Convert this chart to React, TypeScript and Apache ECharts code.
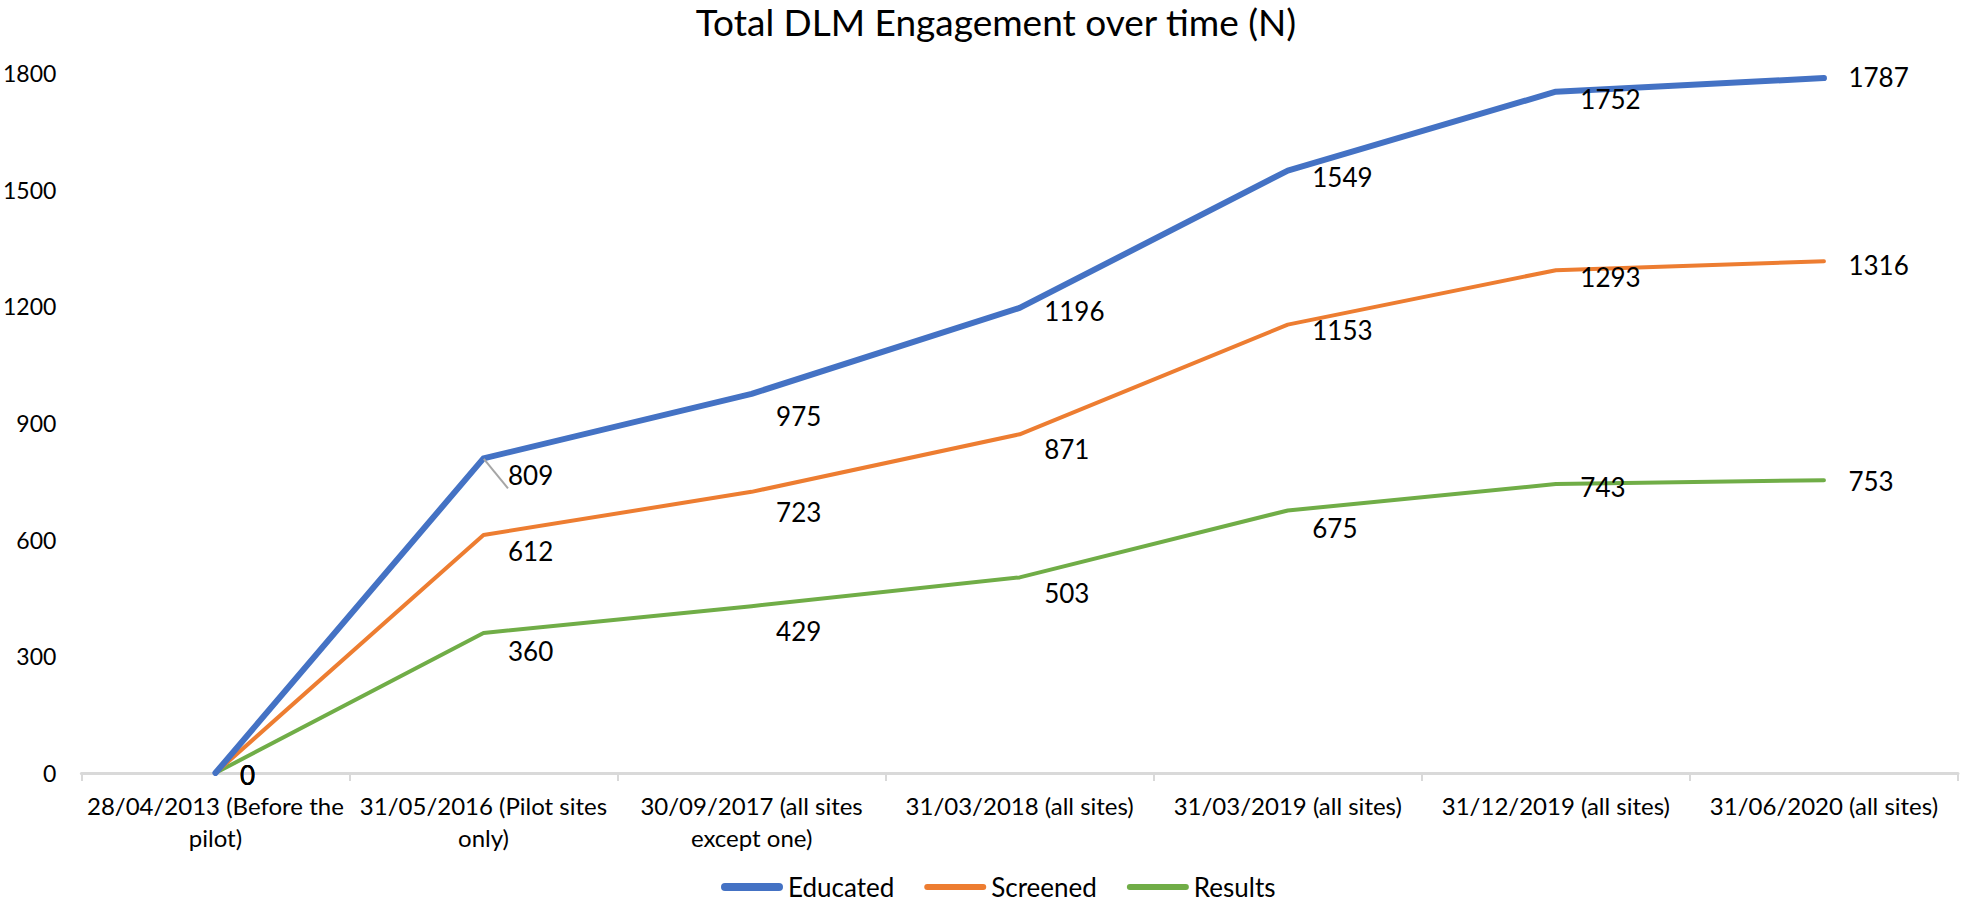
import React, { useEffect, useRef } from "react";
import * as echarts from "echarts";

const categories = [
  "28/04/2013 (Before the\npilot)",
  "31/05/2016 (Pilot sites\nonly)",
  "30/09/2017 (all sites\nexcept one)",
  "31/03/2018 (all sites)",
  "31/03/2019 (all sites)",
  "31/12/2019 (all sites)",
  "31/06/2020 (all sites)",
];

const educated = [0, 809, 975, 1196, 1549, 1752, 1787];
const screened = [0, 612, 723, 871, 1153, 1293, 1316];
const results = [0, 360, 429, 503, 675, 743, 753];

const yTicks = [0, 300, 600, 900, 1200, 1500, 1800];

// label vertical nudges (style only)
const educatedLabelDy = [2, 17, 22, 3, 6, 7, -1];
const screenedLabelDy = [2, 16, 20, 15, 5, 7, 4];
const resultsLabelDy = [2, 18, 25, 16, 17, 3, 1];

const FONT = "Lato";
const BLUE = "#4472C4";
const ORANGE = "#ED7D31";
const GREEN = "#70AD47";

function buildData(values: number[], dys: number[], leaderIndex: number = -1) {
  return values.map((v, i) => {
    const item: any = { value: v, label: { offset: [0, dys[i]] } };
    if (i === leaderIndex) {
      item.labelLine = { show: true, length2: 0, lineStyle: { color: "#A6A6A6", width: 2 } };
    }
    return item;
  });
}

const legendIcon = (h: number) =>
  `path://M${h / 2},0 H${62 - h / 2} A${h / 2},${h / 2} 0 0 1 ${62 - h / 2},${h} H${h / 2} A${h / 2},${h / 2} 0 0 1 ${h / 2},0 Z`;

export default function App() {
  const ref = useRef<HTMLDivElement>(null);

  useEffect(() => {
    if (!ref.current) return;
    const chart = echarts.init(ref.current, undefined, { renderer: "svg" });
    const labelCommon = {
      show: true,
      position: "right" as const,
      distance: 24,
      color: "#000",
      fontFamily: FONT,
      fontSize: 26,
    };
    const mkSeries = (name: string, values: number[], dys: number[], color: string, width: number, z: number, leader = -1) => ({
      name,
      type: "line",
      data: buildData(values, dys, leader),
      showSymbol: true,
      symbol: "circle",
      symbolSize: 1,
      color,
      itemStyle: { color: "rgba(0,0,0,0)", borderWidth: 0 },
      lineStyle: { color, width, cap: "round", join: "round" },
      label: labelCommon,
      emphasis: { disabled: true },
      z,
    });
    chart.setOption({
      animation: false,
      backgroundColor: "#fff",
      title: {
        text: "Total DLM Engagement over time (N)",
        left: 996,
        textAlign: "center",
        top: 3,
        padding: 0,
        textStyle: { fontFamily: FONT, fontSize: 37, fontWeight: "normal", color: "#000" },
      },
      legend: {
        left: 716,
        top: 869,
        itemWidth: 62,
        itemHeight: 14,
        itemGap: 30,
        symbolKeepAspect: true,
        textStyle: { fontFamily: FONT, fontSize: 26, color: "#000" },
        data: [
          { name: "Educated", icon: legendIcon(8), itemStyle: { color: BLUE, opacity: 1 } },
          { name: "Screened", icon: legendIcon(6), itemStyle: { color: ORANGE, opacity: 1 } },
          { name: "Results", icon: legendIcon(6), itemStyle: { color: GREEN, opacity: 1 } },
        ],
      },
      grid: { left: 75, right: 3, top: 73, bottom: 132, containLabel: false },
      xAxis: {
        type: "category",
        data: categories,
        boundaryGap: true,
        axisLine: { show: true, lineStyle: { color: "#D9D9D9", width: 3 } },
        axisTick: { show: true, length: 8, lineStyle: { color: "#D9D9D9", width: 2 } },
        axisLabel: {
          margin: 16,
          color: "#000",
          fontFamily: FONT,
          fontSize: 24,
          lineHeight: 32,
          interval: 0,
          align: "center",
        },
        splitLine: { show: false },
      },
      yAxis: {
        type: "value",
        min: yTicks[0],
        max: yTicks[yTicks.length - 1],
        interval: 300,
        axisLine: { show: false },
        axisTick: { show: false },
        splitLine: { show: false },
        axisLabel: {
          margin: 25,
          color: "#000",
          fontFamily: FONT,
          fontSize: 23,
          formatter: (v: number) => String(v),
        },
      },
      series: [
        mkSeries("Educated", educated, educatedLabelDy, BLUE, 6, 3, 1),
        mkSeries("Screened", screened, screenedLabelDy, ORANGE, 4, 2),
        mkSeries("Results", results, resultsLabelDy, GREEN, 4, 1),
      ],
    });
    return () => chart.dispose();
  }, []);

  return (
    <div
      ref={ref}
      style={{ position: "fixed", left: 0, top: 0, width: 1961, height: 905, background: "#fff" }}
    />
  );
}
